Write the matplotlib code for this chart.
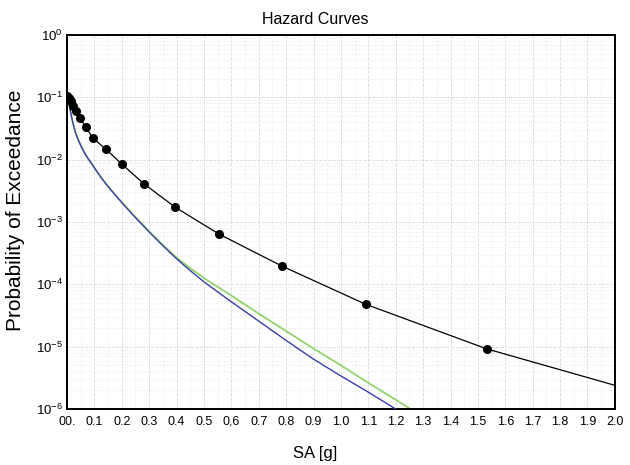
import numpy as np
import matplotlib
matplotlib.use('Agg')
import matplotlib.pyplot as plt
from matplotlib.ticker import LogLocator, MultipleLocator, NullFormatter

plt.rcParams['font.family'] = ['Liberation Sans', 'DejaVu Sans']

# Black curve (with markers at the hazard points)
sa_black = [0.0, 0.007, 0.015, 0.022, 0.033, 0.047, 0.069, 0.095, 0.142, 0.20,
            0.281, 0.394, 0.555, 0.785, 1.09, 1.533, 2.0]
poe_black = [0.105, 0.097, 0.087, 0.073, 0.060, 0.047, 0.033, 0.022, 0.0148, 0.0085,
             0.0041, 0.00174, 6.4e-4, 1.96e-4, 4.8e-5, 9.2e-6, 2.4e-6]

# Blue curve (log10 of probability)
sa_blue = [0.0, 0.005, 0.01, 0.015, 0.02, 0.03, 0.04, 0.05, 0.06, 0.075, 0.1,
           0.125, 0.15, 0.2, 0.25, 0.3, 0.35, 0.4, 0.45, 0.5, 0.6, 0.7, 0.8,
           0.9, 1.0, 1.1, 1.2, 1.25]
logp_blue = [-1.0, -1.07, -1.16, -1.27, -1.38, -1.55, -1.67, -1.77, -1.86, -1.97, -2.13,
             -2.29, -2.43, -2.69, -2.93, -3.16, -3.38, -3.59, -3.78, -3.96, -4.28, -4.59, -4.90,
             -5.20, -5.47, -5.73, -6.0, -6.13]

# Green curve
sa_green = [0.0, 0.005, 0.01, 0.015, 0.02, 0.03, 0.04, 0.05, 0.06, 0.075, 0.1,
            0.125, 0.15, 0.2, 0.25, 0.3, 0.35, 0.4, 0.45, 0.5, 0.6, 0.7, 0.8,
            0.9, 1.0, 1.1, 1.2, 1.25, 1.3]
logp_green = [-1.0, -1.07, -1.16, -1.27, -1.38, -1.55, -1.67, -1.77, -1.86, -1.97, -2.13,
              -2.29, -2.43, -2.68, -2.92, -3.15, -3.37, -3.57, -3.74, -3.90, -4.18, -4.47, -4.75,
              -5.03, -5.30, -5.58, -5.85, -5.99, -6.12]

x_ticks = [0.0, 0.1, 0.2, 0.3, 0.4, 0.5, 0.6, 0.7, 0.8, 0.9, 1.0,
           1.1, 1.2, 1.3, 1.4, 1.5, 1.6, 1.7, 1.8, 1.9, 2.0]
x_labels = ['00.', '0.1', '0.2', '0.3', '0.4', '0.5', '0,6', '0.7', '0.8', '0.9', '1.0',
            '1.1', '1.2', '1.3', '1.4', '1.5', '1.6', '1.7', '1.8', '1.9', '2.0']

fig = plt.figure(figsize=(6.3, 4.65), dpi=100)
ax = fig.add_axes([0.1063, 0.1204, 0.8697, 0.8043])

ax.plot(sa_blue, 10 ** np.array(logp_blue), color='#3b3fa8', lw=1.0, zorder=3)
ax.plot(sa_green, 10 ** np.array(logp_green), color='#92d36e', lw=1.3, zorder=2)
ax.plot(sa_black, poe_black, color='black', lw=0.9, marker='o', markersize=5.5,
        markevery=list(range(len(sa_black) - 1)), zorder=4)

ax.set_yscale('log')
ax.set_xlim(0, 2.0)
ax.set_ylim(1e-6, 1)

ax.set_xticks(x_ticks)
ax.set_xticklabels(x_labels)
ax.xaxis.set_minor_locator(MultipleLocator(0.05))
ax.yaxis.set_major_locator(LogLocator(base=10, numticks=10))
ax.yaxis.set_minor_locator(LogLocator(base=10, subs=np.arange(2, 10), numticks=100))
ax.yaxis.set_minor_formatter(NullFormatter())

ax.tick_params(axis='x', which='both', length=0, pad=5, labelsize=9)
ax.tick_params(axis='y', which='both', length=0, pad=3, labelsize=9.5)

ax.grid(True, which='major', color='#d8d8d8', linestyle='--', linewidth=0.6)
ax.grid(True, which='minor', color='#e6e6e6', linestyle=':', linewidth=0.6)

for s in ax.spines.values():
    s.set_linewidth(1.4)
    s.set_color('black')

ax.set_title('Hazard Curves', fontsize=11.5, x=0.4526, y=1.029, pad=0)
ax.set_xlabel('SA [g]', fontsize=12)
ax.xaxis.set_label_coords(0.4526, -0.10)
ax.set_ylabel('Probability of Exceedance', fontsize=15)
ax.yaxis.set_label_coords(-0.077, 0.532)

fig.savefig('out.png', dpi=100)
